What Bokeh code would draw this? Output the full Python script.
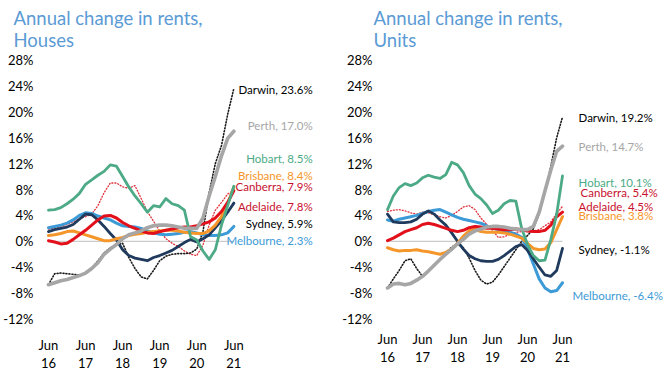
from bokeh.plotting import figure
from bokeh.models import FixedTicker, Label, LinearAxis
from bokeh.layouts import row
from bokeh.embed import file_html
from bokeh.resources import INLINE

# ---------------- data ----------------
months = list(range(0, 61, 2))  # months since Jun 2016, every 2 months
tick_months = [0, 12, 24, 36, 48, 60]
tick_month_labels = ["Jun", "Jun", "Jun", "Jun", "Jun", "Jun"]
tick_year_labels = ["16", "17", "18", "19", "20", "21"]
y_ticks = [-12, -8, -4, 0, 4, 8, 12, 16, 20, 24, 28]

# Houses
darwin_h = [-6.7, -5.0, -4.9, -5.0, -5.1, -5.2, -5.0, -4.2, -3.0, -1.8, -1.0, -0.5, -0.3, -2.5, -4.2, -5.5,
            -5.8, -4.5, -3.0, -2.3, -2.0, -1.9, -1.9, -1.8, -1.2, 1.5, 7.5, 12.0, 14.8, 19.6, 23.6]
perth_h = [-6.7, -6.4, -6.1, -5.9, -5.6, -5.3, -4.9, -4.2, -3.3, -2.0, -1.2, -0.5, 0.4, 1.0, 1.3, 1.6,
           2.1, 2.4, 2.5, 2.5, 2.4, 2.2, 2.0, 2.0, 2.0, 3.6, 7.0, 10.0, 13.2, 15.9, 17.0]
hobart_h = [4.8, 4.9, 5.2, 5.8, 6.5, 7.4, 8.8, 9.5, 10.2, 10.8, 11.8, 11.6, 10.0, 8.4, 7.0, 5.8,
            4.5, 5.5, 5.3, 6.6, 5.8, 5.5, 4.8, 0.7, 0.2, -1.5, -2.8, -1.3, 2.5, 5.5, 8.5]
brisbane_h = [0.9, 1.0, 1.2, 1.5, 1.6, 1.3, 1.0, 0.7, 0.4, 0.1, 0.1, 0.4, 0.6, 0.9, 1.1, 1.2,
              1.4, 1.5, 1.6, 1.7, 1.7, 1.6, 1.4, 1.3, 1.2, 1.2, 1.6, 2.5, 3.8, 5.8, 8.4]
canberra_h = [1.9, 2.0, 2.2, 2.6, 3.0, 3.5, 3.8, 4.2, 5.5, 7.5, 9.0, 9.0, 8.4, 8.2, 8.6, 6.6,
              4.6, 3.1, 1.6, 0.4, -0.3, -0.8, -1.5, -2.0, -2.2, -0.6, 2.5, 4.8, 6.0, 7.3, 7.9]
adelaide_h = [0.1, -0.1, -0.4, -0.3, 0.3, 1.0, 1.7, 2.5, 3.3, 3.9, 4.0, 3.6, 2.9, 2.4, 2.0, 1.6,
              1.3, 1.2, 1.5, 1.7, 1.9, 2.1, 2.2, 2.2, 2.4, 2.7, 3.0, 3.6, 4.6, 6.0, 7.8]
sydney_h = [1.5, 1.8, 2.0, 2.2, 2.6, 3.4, 4.2, 4.1, 3.3, 2.3, 1.2, 0.2, -1.3, -2.2, -2.6, -2.8,
            -3.0, -2.5, -2.2, -1.8, -1.4, -0.8, -0.2, 0.3, -0.1, 0.4, 1.0, 2.1, 3.2, 4.5, 5.9]
melbourne_h = [2.1, 2.3, 2.5, 2.8, 3.3, 4.0, 4.4, 4.3, 3.9, 3.6, 3.3, 2.8, 2.4, 2.3, 2.2, 2.0,
               1.6, 1.3, 1.1, 1.0, 1.1, 1.2, 1.4, 1.5, 1.3, 1.0, 0.9, 0.9, 1.0, 1.3, 2.3]

# Units
darwin_u = [-7.2, -5.8, -4.5, -3.0, -2.7, -4.2, -5.4, -4.5, -3.6, -2.8, -1.8, -0.9, -0.4, -1.0, -2.6, -4.5,
            -6.0, -6.6, -6.3, -5.2, -3.9, -2.6, -1.3, 0.0, 0.9, 1.9, 4.3, 7.6, 11.6, 16.0, 19.2]
perth_u = [-7.2, -6.6, -6.5, -6.7, -6.5, -6.0, -5.4, -4.6, -3.7, -2.8, -2.0, -1.2, -0.4, 0.3, 1.1, 1.6,
           1.9, 2.2, 2.3, 2.3, 2.2, 2.0, 1.9, 1.8, 1.8, 2.3, 4.5, 7.8, 11.0, 13.9, 14.7]
hobart_u = [4.9, 7.0, 8.3, 8.9, 8.6, 9.0, 9.8, 10.2, 9.9, 9.7, 10.3, 12.2, 11.8, 10.6, 8.6, 7.3,
            6.6, 5.6, 4.3, 4.8, 5.8, 6.3, 6.2, 2.0, -0.5, -2.2, -3.0, -2.9, 0.3, 4.2, 10.1]
canberra_u = [4.6, 4.8, 4.9, 4.7, 4.4, 4.2, 4.5, 4.4, 4.1, 3.8, 3.6, 4.0, 4.6, 5.3, 5.5, 4.9,
              3.6, 2.6, 1.7, 0.6, 0.7, 1.1, 1.4, 1.5, 1.5, 1.6, 1.8, 2.4, 3.0, 4.3, 5.4]
adelaide_u = [0.1, 0.5, 1.0, 1.5, 1.8, 2.1, 2.6, 2.8, 2.6, 2.3, 2.0, 1.7, 1.5, 1.7, 2.1, 2.3,
              2.2, 2.0, 2.0, 1.9, 1.8, 1.8, 1.9, 1.8, 1.6, 1.5, 1.5, 1.7, 2.5, 3.8, 4.5]
brisbane_u = [-1.0, -1.3, -1.5, -1.4, -1.4, -1.3, -1.5, -1.6, -1.8, -2.0, -1.7, -1.2, -0.3, 0.8, 1.6, 1.9,
              1.5, 1.4, 1.4, 1.4, 1.3, 1.1, 0.8, 0.5, -0.3, -1.1, -1.3, -1.2, -0.2, 1.8, 3.8]
sydney_u = [4.2, 3.0, 2.9, 2.9, 3.0, 3.4, 4.2, 4.7, 4.2, 3.3, 2.5, 1.3, 0.0, -1.2, -2.2, -2.7,
            -3.0, -3.1, -3.1, -2.8, -2.2, -1.5, -0.8, -0.5, -1.4, -2.7, -4.0, -5.2, -5.4, -4.5, -1.1]
melbourne_u = [3.3, 3.1, 3.4, 3.6, 3.8, 4.0, 4.3, 4.6, 4.8, 4.9, 4.5, 4.1, 3.7, 3.4, 3.2, 3.0,
               2.8, 2.4, 2.0, 1.8, 1.6, 1.4, 1.1, 0.6, -1.2, -3.5, -5.8, -7.2, -7.8, -7.6, -6.4]

cities = ["Darwin", "Perth", "Hobart", "Brisbane", "Canberra", "Adelaide", "Sydney", "Melbourne"]
houses = [darwin_h, perth_h, hobart_h, brisbane_h, canberra_h, adelaide_h, sydney_h, melbourne_h]
units = [darwin_u, perth_u, hobart_u, brisbane_u, canberra_u, adelaide_u, sydney_u, melbourne_u]

# ---------------- styles ----------------
FONT = "Lato"
line_styles = {
    "Darwin":    dict(color="#1a1a1a", width=1.6, dash="1 2"),
    "Perth":     dict(color="#A6A6A6", width=3.6, dash="solid"),
    "Hobart":    dict(color="#4DAA86", width=2.8, dash="solid"),
    "Brisbane":  dict(color="#F5962A", width=3.0, dash="solid"),
    "Canberra":  dict(color="#E0303C", width=1.3, dash="1 2"),
    "Adelaide":  dict(color="#E2101A", width=3.0, dash="solid"),
    "Sydney":    dict(color="#1F3A5C", width=2.8, dash="solid"),
    "Melbourne": dict(color="#3C9AD6", width=3.0, dash="solid"),
}
label_colors = {
    "Darwin": "#000000", "Perth": "#A6A6A6", "Hobart": "#4DAA86", "Brisbane": "#F5962A",
    "Canberra": "#C8102E", "Adelaide": "#C8102E", "Sydney": "#000000", "Melbourne": "#3C9AD6",
}
draw_order = ["Canberra", "Darwin", "Melbourne", "Sydney", "Brisbane", "Adelaide", "Hobart", "Perth"]

houses_label_pos = {
    "Darwin": 23.4, "Perth": 17.9, "Hobart": 12.8, "Brisbane": 10.2,
    "Canberra": 8.45, "Adelaide": 5.45, "Sydney": 2.75, "Melbourne": 0.05,
}
units_label_pos = {
    "Darwin": (65.5, 19.05), "Perth": (65.5, 14.6), "Hobart": (65.5, 9.1), "Canberra": (66.2, 7.55),
    "Adelaide": (65.5, 5.37), "Brisbane": (65.5, 4.03), "Sydney": (65.5, -1.19), "Melbourne": (63.4, -8.44),
}


def style_axis(ax):
    ax.axis_line_color = None
    ax.major_tick_line_color = None
    ax.minor_tick_line_color = None
    ax.major_tick_out = 0
    ax.major_tick_in = 0
    ax.minor_tick_out = 0
    ax.minor_tick_in = 0
    ax.major_label_text_font = FONT
    ax.major_label_text_font_size = "13px"
    ax.major_label_text_color = "#000000"


def make_chart(title, series, width, border_left, border_top, border_bottom, x_start, x_end,
               title_offset, title_standoff, x_standoff, year_standoff):
    p = figure(width=width, height=376, output_backend="svg", toolbar_location=None,
               x_range=(x_start, x_end), y_range=(-13, 29),
               min_border_left=border_left, min_border_right=0,
               min_border_top=border_top, min_border_bottom=border_bottom)
    p.title.text = title
    p.title.text_font = FONT
    p.title.text_font_size = "18.5px"
    p.title.text_font_style = "normal"
    p.title.text_color = "#5B9BD5"
    p.title.text_line_height = 1.0
    p.title.offset = title_offset
    p.title.standoff = title_standoff

    p.outline_line_color = None
    p.background_fill_color = "white"
    p.border_fill_color = "white"
    p.xgrid.visible = False
    p.ygrid.visible = False

    style_axis(p.xaxis[0])
    style_axis(p.yaxis[0])
    p.yaxis.ticker = FixedTicker(ticks=y_ticks)
    p.yaxis.major_label_overrides = {t: f"{t}%" for t in y_ticks}
    p.yaxis.major_label_standoff = 8
    p.xaxis.ticker = FixedTicker(ticks=tick_months)
    p.xaxis.major_label_overrides = dict(zip(tick_months, tick_month_labels))
    p.xaxis.major_label_standoff = x_standoff

    year_axis = LinearAxis(ticker=FixedTicker(ticks=tick_months),
                           major_label_overrides=dict(zip(tick_months, tick_year_labels)),
                           major_label_standoff=year_standoff)
    style_axis(year_axis)
    p.add_layout(year_axis, "below")

    p.line([months[0], months[-1]], [0, 0], line_color="#BFBFBF", line_width=1)

    data = dict(zip(cities, series))
    for c in draw_order:
        st = line_styles[c]
        p.line(months, data[c], line_color=st["color"], line_width=st["width"],
               line_dash=st["dash"], line_join="round", line_cap="round")
    return p, data


p1, d1 = make_chart("Annual change in rents,\nHouses", houses, 333, 40, 53, 48,
                    -2.26, -2.26 + 293 / 3.1, -28, 6, 11, 2)
for c in cities:
    p1.add_layout(Label(x=85.5, y=houses_label_pos[c], text=f"{c}, {d1[c][-1]:.1f}%",
                        text_align="right", text_baseline="middle", text_font=FONT,
                        text_font_size="11.5px", text_color=label_colors[c]))

p2, d2 = make_chart("Annual change in rents,\nUnits", units, 334, 47, 51, 51,
                    -2.4, -2.4 + 287 / 2.9167, -7, 5, 5, 2)
for c in cities:
    lx, ly = units_label_pos[c]
    p2.add_layout(Label(x=lx, y=ly, text=f"{c}, {d2[c][-1]:.1f}%",
                        text_align="left", text_baseline="middle", text_font=FONT,
                        text_font_size="11.5px", text_color=label_colors[c]))

layout = row(p1, p2)
open("out.html", "w").write(file_html(layout, INLINE))
